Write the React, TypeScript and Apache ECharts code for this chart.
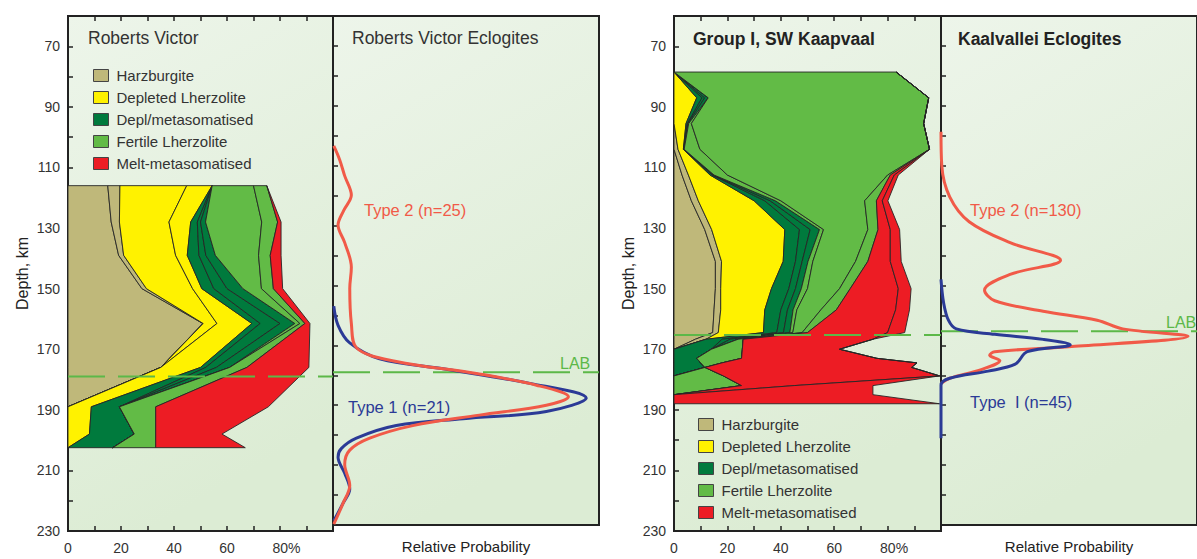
import React, { useEffect, useRef } from "react";
import * as echarts from "echarts";

const FONT = '"Liberation Sans", Arial, Helvetica, sans-serif';

// ---------- categories ----------
const categories = [
  "Harzburgite",
  "Depleted Lherzolite",
  "Depl/metasomatised",
  "Fertile Lherzolite",
  "Melt-metasomatised",
];
const catColors = ["#bfb87a", "#fff200", "#007a3d", "#62bb46", "#ed1c24"];

// ---------- depth axis ----------
const depthMin = 60;
const depthMax = 230;
const depthStep = 10;
const pctTicks = [0, 20, 40, 60, 80];

// ---------- Roberts Victor (cumulative % boundaries at each depth) ----------
const rvDepth = [116, 128, 139, 150, 161.5, 176, 189, 198, 202.5];
const rvZero = [0, 0, 0, 0, 0, 0, 0, 0, 0];
const rvHarzA = [15, 16.3, 19.1, 27.9, 50.9, 35, 0, 0, 0];
const rvHarz = [19.6, 19.4, 21, 29.6, 51, 35, 0, 0, 0];
const rvDeplA = [44.8, 38.1, 40.6, 47, 56.2, 35, 0, 0, 0];
const rvDepl = [54.4, 46.3, 45, 50.5, 69.4, 50, 8.8, 8.1, 0];
const rvMetaA = [54.4, 48.8, 49.4, 55, 72.5, 52, 19.4, 25, 16.9];
const rvMetaB = [54.4, 50, 52, 60, 80, 56, 19.4, 25, 16.9];
const rvMeta = [54.4, 51.9, 55.6, 66, 85.6, 61, 19.4, 25, 16.9];
const rvFertA = [70, 73.1, 71.9, 73, 87.5, 61, 19.4, 25, 16.9];
const rvFert = [75, 79.1, 76.3, 77.5, 89.4, 67.5, 33.1, 33.1, 33.1];
const rvMelt = [75, 80.4, 80.4, 81, 91.3, 90.9, 75.6, 58.1, 66.9];

// ---------- SW Kaapvaal Group I (cumulative % boundaries) ----------
const kDepth = [78.5, 87, 95.5, 104, 112.5, 121, 130.5, 141, 150, 157, 164.5, 166.7, 170, 173, 174.5, 176, 178.8, 182, 185, 188];
const kZero = kDepth.map(() => 0);
const kHarzA = [0, 0, 0, 0, 3, 6.5, 11.5, 15.5, 15.5, 15, 14.5, 8, 0, 0, 0, 0, 0, 0, 0, 0];
const kHarz = [0, 0, 0, 1.5, 5.4, 9.1, 14.1, 17.8, 17.5, 17.5, 16.6, 12, 0, 0, 0, 0, 0, 0, 0, 0];
const kDepl = [0, 8.5, 4.5, 3.5, 13.5, 30, 41.5, 40.9, 36.5, 34, 33.5, 12, 0, 0, 0, 0, 0, 0, 0, 0];
const kMetaA = [0, 10.5, 5, 3.6, 14.3, 34, 47, 45.5, 43, 40, 38.5, 18, 14, 8.5, 10, 11.6, 0, 0, 0, 0];
const kMetaB = [0, 11.5, 5.2, 3.7, 14.6, 36, 51, 48, 45.5, 42.5, 41, 21, 14, 8.5, 10, 11.6, 0, 0, 0, 0];
const kMeta = [0, 12.8, 5.5, 3.8, 15, 38, 54.5, 50.2, 47.7, 44.6, 43.4, 24, 14, 8.5, 10, 11.6, 0, 0, 0, 0];
const kFertA = [0, 12.8, 6.5, 9.7, 20, 40, 56, 52, 50, 46, 44.5, 24, 14, 8.5, 10, 11.6, 0, 0, 0, 0];
const kFertB = [83.2, 95.4, 93.5, 95.7, 80, 71.4, 72.6, 68, 62, 55, 48, 25.9, 25.6, 25.3, 18, 11.6, 18.5, 25.3, 0, 0];
const kFert = [83.2, 95.4, 93.5, 95.7, 81, 75.8, 76.4, 72.6, 66, 60.8, 50, 25.9, 25.6, 25.3, 18, 11.6, 18.5, 25.3, 0, 0];
const kMeltA = [83.2, 95.4, 93.5, 95.7, 82.5, 78, 81, 81, 84, 83, 80, 74.5, 62, 76, 91, 89, 99.5, 45, 0, 0];
const kMelt = [83.2, 95.4, 93.5, 95.7, 84, 80.1, 84.5, 85.1, 88.8, 88.2, 86.4, 74.5, 62, 76, 91, 89, 99.5, 74.5, 74.5, 99.5];

// ---------- eclogite probability curves [relative probability, depth] ----------
const rvType2 = [
  [0.3, 103.4], [2.5, 108], [4.4, 113.4], [6.9, 119.8], [4, 125], [1.9, 129.8], [4.4, 135.7],
  [6.9, 143.9], [6.3, 151], [6.9, 162.7], [8.8, 170.8], [23.8, 175.4], [53.9, 179.4],
  [76.5, 183.3], [88.5, 187.2], [80.2, 190], [55, 193.3], [30, 196.8], [13.8, 201],
  [6.3, 205], [4.4, 209.8], [6.3, 216.8], [3.8, 222.7], [0.3, 229.7],
];
const rvType1 = [
  [0.3, 156.9], [1.9, 163.3], [6.3, 169.2], [17.5, 174.5], [42.6, 178], [74, 182.7],
  [95.2, 187.6], [80.2, 192.1], [48.9, 194.5], [23.8, 196.8], [8.8, 201], [3.1, 204.5],
  [1.9, 207.4], [4.4, 212.7], [6.3, 218], [3.8, 222.7], [0.3, 228.6],
];
const kType2 = [
  [0, 98.7], [0.3, 109.9], [3.4, 120.4], [11, 128.7], [27, 135.7], [46.7, 141.6], [27, 146.3],
  [17, 151.6], [21, 155.1], [39.9, 158.6], [61, 161.6], [71, 164.5], [96.5, 167], [51, 170.4],
  [21, 172.1], [19, 173.3], [23, 175.1], [16, 178], [3.4, 181], [0, 182.7],
];
const kType1 = [
  [0, 148], [1, 155.7], [2.9, 161.6], [6, 164.5], [21, 166.3], [39.9, 168], [50.5, 169.8],
  [33.7, 172.1], [29, 176.3], [18.4, 178.6], [3.4, 181], [0, 183.3], [0, 201],
];

const rvLab = 179;
const kLab = 165.3;

function bandSeries(
  name: string,
  color: string,
  depths: number[],
  lower: number[],
  upper: number[],
  xAxisIndex: number,
  yAxisIndex: number
) {
  return {
    type: "custom",
    name,
    xAxisIndex,
    yAxisIndex,
    coordinateSystem: "cartesian2d",
    silent: true,
    z: 2,
    itemStyle: { color, borderColor: "#333", borderWidth: 1 },
    data: [[0, depths[0]]],
    encode: { x: 0, y: 1 },
    renderItem: (_params: any, api: any) => {
      const pts: number[][] = [];
      for (let i = 0; i < depths.length; i++) pts.push(api.coord([lower[i], depths[i]]));
      for (let i = depths.length - 1; i >= 0; i--) pts.push(api.coord([upper[i], depths[i]]));
      return {
        type: "polygon",
        shape: { points: pts },
        style: { fill: color, stroke: "#262626", lineWidth: 0.9, lineJoin: "round" },
      };
    },
  };
}

const bg = {
  type: "linear",
  x: 0,
  y: 0,
  x2: 0.3,
  y2: 1,
  colorStops: [
    { offset: 0, color: "#edf5ea" },
    { offset: 1, color: "#dcecd4" },
  ],
};

function pctAxis(gridIndex: number) {
  return {
    type: "value",
    gridIndex,
    min: 0,
    max: 100,
    interval: 10,
    position: "bottom",
    axisLine: { show: true, lineStyle: { color: "#222", width: 2 } },
    axisTick: { show: true, inside: true, length: 5, lineStyle: { color: "#222", width: 1.5 } },
    splitLine: { show: false },
    axisLabel: {
      margin: 10,
      fontSize: 14,
      color: "#333",
      fontFamily: FONT,
      formatter: (v: number) =>
        v === 80 ? "{p|80%}" : pctTicks.indexOf(v) >= 0 ? String(v) : "",
      rich: { p: { padding: [0, 0, 0, 13], fontSize: 14, color: "#333", fontFamily: FONT } },
    },
  };
}
function topAxis(gridIndex: number) {
  return {
    type: "value",
    gridIndex,
    min: 0,
    max: 100,
    interval: 10,
    position: "top",
    axisLine: { show: true, lineStyle: { color: "#222", width: 2 } },
    axisTick: { show: true, inside: true, length: 5, lineStyle: { color: "#222", width: 1.5 } },
    axisLabel: { show: false },
    splitLine: { show: false },
  };
}
function probAxis(gridIndex: number) {
  return {
    type: "value",
    gridIndex,
    min: 0,
    max: 100,
    position: "bottom",
    name: "Relative Probability",
    nameLocation: "middle",
    nameGap: 14,
    nameTextStyle: { fontSize: 15, color: "#222", fontFamily: FONT },
    axisLine: { show: true, lineStyle: { color: "#222", width: 2 } },
    axisTick: { show: false },
    axisLabel: { show: false },
    splitLine: { show: false },
  };
}
function depthAxis(gridIndex: number, labels: boolean) {
  return {
    type: "value",
    gridIndex,
    inverse: true,
    min: depthMin,
    max: depthMax,
    interval: depthStep,
    name: labels ? "Depth, km" : "",
    nameLocation: "middle",
    nameRotate: 90,
    nameGap: 38,
    nameTextStyle: { fontSize: 16, color: "#222", fontFamily: FONT },
    axisLine: { show: true, lineStyle: { color: "#222", width: 2 } },
    axisTick: { show: true, inside: true, length: 5, lineStyle: { color: "#222", width: 1.5 } },
    splitLine: { show: false },
    axisLabel: {
      show: labels,
      margin: 8,
      fontSize: 14,
      color: "#333",
      fontFamily: FONT,
      formatter: (v: number) => ((v - 70) % 20 === 0 ? String(v) : ""),
    },
  };
}

function labLine(xAxisIndex: number, yAxisIndex: number, depth: number) {
  return {
    type: "line",
    xAxisIndex,
    yAxisIndex,
    data: [
      [0, depth],
      [100, depth],
    ],
    symbol: "none",
    silent: true,
    z: 5,
    lineStyle: { color: "#5cb848", width: 2, type: [37, 13] },
  };
}
function curve(xAxisIndex: number, yAxisIndex: number, data: number[][], color: string, z: number) {
  return {
    type: "line",
    xAxisIndex,
    yAxisIndex,
    data,
    symbol: "none",
    smooth: 0.35,
    silent: true,
    z,
    lineStyle: { color, width: 3 },
  };
}

function text(x: number, y: number, s: string, color: string, size: number, bold = false) {
  return {
    type: "text",
    x,
    y,
    z: 100,
    silent: true,
    style: {
      text: s,
      fill: color,
      font: `${bold ? "bold " : ""}${size}px ${FONT}`,
      align: "left",
      verticalAlign: "middle",
    },
  };
}

export default function App() {
  const ref = useRef<HTMLDivElement>(null);
  useEffect(() => {
    if (!ref.current) return;
    const chart = echarts.init(ref.current, undefined, { renderer: "svg" });

    const rvBounds = [rvZero, rvHarzA, rvHarz, rvDeplA, rvDepl, rvMetaA, rvMetaB, rvMeta, rvFertA, rvFert, rvMelt];
    const rvCat = [0, 0, 1, 1, 2, 2, 2, 3, 3, 4];
    const kBounds = [kZero, kHarzA, kHarz, kDepl, kMetaA, kMetaB, kMeta, kFertA, kFertB, kFert, kMeltA, kMelt];
    const kCat = [0, 0, 1, 2, 2, 2, 3, 3, 3, 4, 4];

    const series: any[] = [];
    rvCat.forEach((c, i) =>
      series.push(bandSeries(categories[c], catColors[c], rvDepth, rvBounds[i], rvBounds[i + 1], 0, 0))
    );
    kCat.forEach((c, i) =>
      series.push(bandSeries(categories[c], catColors[c], kDepth, kBounds[i], kBounds[i + 1], 3, 2))
    );
    series.push(labLine(0, 0, rvLab), labLine(2, 1, rvLab), labLine(3, 2, kLab), labLine(5, 3, kLab));
    series.push(curve(2, 1, rvType1, "#2b3a96", 6), curve(2, 1, rvType2, "#f15a48", 7));
    series.push(curve(5, 3, kType1, "#2b3a96", 7), curve(5, 3, kType2, "#f15a48", 6));

    const legendBase = {
      orient: "vertical",
      icon: "rect",
      itemWidth: 15,
      itemHeight: 12,
      itemGap: 7,
      selectedMode: false,
      data: categories,
      itemStyle: { borderColor: "#444", borderWidth: 1 },
      textStyle: { fontSize: 15, color: "#333", fontFamily: FONT, padding: [0, 0, 0, 3] },
    };

    const gridBase = {
      show: true,
      backgroundColor: bg,
      borderColor: "#222",
      borderWidth: 2,
      containLabel: false,
    };

    chart.setOption({
      animation: false,
      textStyle: { fontFamily: FONT },
      grid: [
        { ...gridBase, left: 68, top: 16, width: 265, height: 515 },
        { ...gridBase, left: 333, top: 16, width: 266, height: 515 },
        { ...gridBase, left: 674, top: 16, width: 267, height: 515 },
        { ...gridBase, left: 941, top: 16, width: 266, height: 515 },
      ],
      xAxis: [pctAxis(0), topAxis(0), probAxis(1), pctAxis(2), topAxis(2), probAxis(3)],
      yAxis: [depthAxis(0, true), depthAxis(1, false), depthAxis(2, true), depthAxis(3, false)],
      legend: [
        { ...legendBase, left: 88, top: 63 },
        { ...legendBase, left: 693, top: 412 },
      ],
      graphic: [
        text(88, 38, "Roberts Victor", "#333", 17.5),
        text(352, 38, "Roberts Victor Eclogites", "#333", 17.5),
        text(693, 39, "Group I, SW Kaapvaal", "#222", 17.5, true),
        text(958, 39, "Kaalvallei Eclogites", "#222", 17.5, true),
        text(364, 210, "Type 2 (n=25)", "#f15a48", 16.5),
        text(348, 407, "Type 1 (n=21)", "#2b3a96", 16.5),
        text(560, 363, "LAB", "#5cb848", 16),
        text(970, 210, "Type 2 (n=130)", "#f15a48", 16.5),
        text(970, 402, "Type  I (n=45)", "#2b3a96", 16.5),
        text(1166, 322, "LAB", "#5cb848", 16),
      ],
      series,
    });
    return () => chart.dispose();
  }, []);
  return (
    <div
      ref={ref}
      style={{ position: "absolute", left: 0, top: 0, width: 1197, height: 559, background: "#fff" }}
    />
  );
}
